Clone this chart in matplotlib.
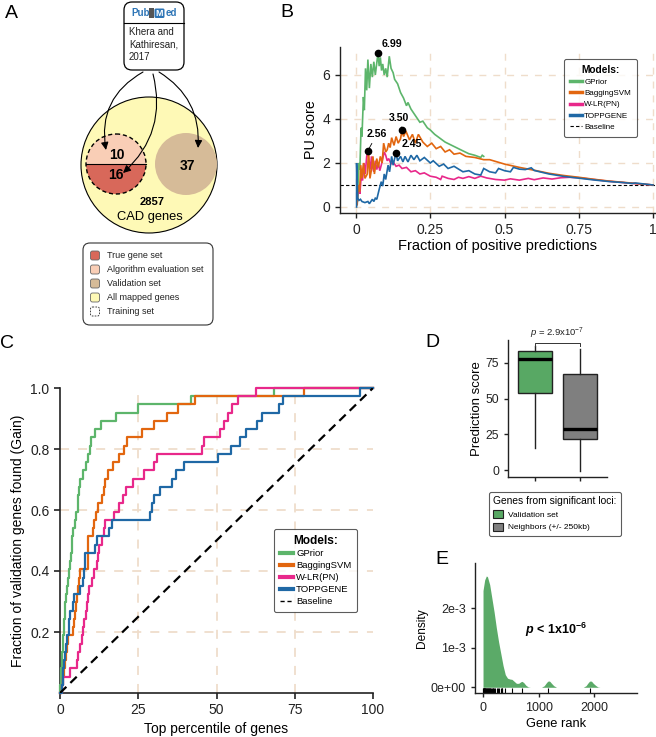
import numpy as np
import matplotlib
matplotlib.use('Agg')
import matplotlib.pyplot as plt
from matplotlib.patches import Circle, Wedge, FancyBboxPatch, FancyArrowPatch, Patch, Rectangle
from matplotlib.lines import Line2D

plt.rcParams['font.family'] = ['Liberation Sans', 'DejaVu Sans']
plt.rcParams['mathtext.fontset'] = 'custom'
plt.rcParams['mathtext.rm'] = 'Liberation Sans'
plt.rcParams['mathtext.it'] = 'Liberation Sans:italic'
plt.rcParams['mathtext.bf'] = 'Liberation Sans:bold'
plt.rcParams['mathtext.bfit'] = 'Liberation Sans:italic:bold'

# ---------------- data ----------------
models = ["GPrior", "BaggingSVM", "W-LR(PN)", "TOPPGENE"]
model_colors = ["#5DB56B", "#E2660F", "#E8288A", "#1F68A5"]

# Panel A
a_eval_n = "10"
a_true_n = "16"
a_valid_n = "37"
a_total_n = "2857"
a_total_label = "CAD genes"
a_source = ["Khera and", "Kathiresan,", "2017"]
a_legend_labels = ["True gene set", "Algorithm evaluation set", "Validation set",
                   "All mapped genes", "Training set"]
a_colors = ["#D8685A", "#F9CEB6", "#D6BB98", "#FEF9B6", "white"]

# Panel B: PU score vs fraction of positive predictions
b_gprior_x = [0.004, 0.010, 0.013, 0.017, 0.020, 0.025, 0.028, 0.032, 0.036, 0.040, 0.045,
              0.050, 0.055, 0.060, 0.065, 0.074, 0.078, 0.082, 0.086, 0.090, 0.095, 0.100,
              0.105, 0.112, 0.118, 0.125, 0.130, 0.140, 0.150, 0.160, 0.170, 0.175, 0.185,
              0.200, 0.215, 0.225, 0.240, 0.250, 0.265, 0.280, 0.300, 0.330, 0.360, 0.380,
              0.400, 0.420, 0.425, 0.430]
b_gprior_y = [0.2, 2.0, 1.7, 3.6, 3.2, 5.0, 4.4, 6.3, 5.3, 6.7, 5.4,
              6.5, 5.9, 6.6, 6.0, 6.99, 6.4, 6.8, 6.2, 6.5, 6.0, 6.3,
              5.9, 6.85, 6.3, 6.1, 5.8, 5.6, 5.2, 4.95, 4.6, 4.75, 4.45,
              4.15, 3.85, 3.9, 3.6, 3.5, 3.3, 3.15, 2.95, 2.75, 2.55, 2.42,
              2.35, 2.25, 2.35, 2.3]
b_bagging_x = [0.004, 0.008, 0.012, 0.016, 0.020, 0.025, 0.030, 0.038, 0.042, 0.047, 0.052,
               0.057, 0.062, 0.066, 0.070, 0.075, 0.082, 0.088, 0.093, 0.100, 0.105, 0.110,
               0.115, 0.120, 0.128, 0.135, 0.142, 0.150, 0.155, 0.160, 0.168, 0.180, 0.190,
               0.200, 0.210, 0.225, 0.240, 0.255, 0.270, 0.285, 0.300, 0.315, 0.330, 0.350,
               0.370, 0.400, 0.430, 0.450, 0.500, 0.550, 0.600, 0.650, 0.700, 0.750, 0.800,
               0.850, 0.900, 0.950, 1.000]
b_bagging_y = [0.1, 1.0, 0.7, 1.9, 1.3, 2.0, 1.3, 1.5, 2.5, 1.3, 1.7,
               2.3, 1.5, 1.9, 2.2, 1.8, 2.3, 2.0, 2.9, 2.5, 2.6, 2.9,
               2.7, 3.15, 2.8, 3.2, 2.9, 3.1, 3.5, 3.2, 3.45, 3.05, 3.3,
               2.9, 3.3, 2.95, 2.75, 2.9, 2.65, 2.75, 2.5, 2.6, 2.4, 2.45,
               2.3, 2.25, 2.15, 2.15, 1.95, 1.8, 1.67, 1.53, 1.43, 1.35, 1.26,
               1.18, 1.12, 1.06, 1.0]
b_wlr_x = [0.004, 0.010, 0.013, 0.018, 0.022, 0.027, 0.031, 0.036, 0.040, 0.044, 0.048,
           0.052, 0.056, 0.060, 0.065, 0.070, 0.075, 0.080, 0.085, 0.090, 0.095, 0.100,
           0.105, 0.110, 0.118, 0.125, 0.135, 0.145, 0.155, 0.170, 0.185, 0.200, 0.215,
           0.230, 0.250, 0.270, 0.285, 0.290, 0.310, 0.330, 0.345, 0.360, 0.380, 0.400,
           0.420, 0.440, 0.470, 0.500, 0.520, 0.550, 0.580, 0.600, 0.630, 0.660, 0.690,
           0.720, 0.750, 0.800, 0.850, 0.900, 0.950, 1.000]
b_wlr_y = [0.5, 0.9, 0.6, 1.5, 1.2, 2.0, 1.5, 2.3, 2.56, 2.1, 1.7,
           2.3, 1.8, 1.6, 2.1, 1.7, 2.0, 1.65, 1.9, 2.2, 2.5, 2.35,
           2.1, 2.2, 1.95, 2.05, 1.85, 1.9, 1.75, 1.8, 1.6, 1.65, 1.5,
           1.55, 1.4, 1.35, 1.25, 1.4, 1.3, 1.25, 1.35, 1.3, 1.38, 1.3,
           1.4, 1.32, 1.25, 1.22, 1.28, 1.22, 1.3, 1.24, 1.32, 1.27, 1.33,
           1.35, 1.33, 1.25, 1.17, 1.11, 1.05, 1.0]
b_topp_x = [0.002, 0.002, 0.004, 0.006, 0.010, 0.015, 0.020, 0.030, 0.040, 0.045, 0.055,
            0.060, 0.065, 0.070, 0.078, 0.085, 0.090, 0.095, 0.100, 0.108, 0.113, 0.120,
            0.125, 0.130, 0.135, 0.140, 0.150, 0.158, 0.165, 0.175, 0.185, 0.195, 0.205,
            0.215, 0.230, 0.250, 0.260, 0.280, 0.295, 0.310, 0.330, 0.360, 0.380, 0.400,
            0.420, 0.430, 0.450, 0.470, 0.480, 0.500, 0.520, 0.530, 0.550, 0.570, 0.590,
            0.600, 0.650, 0.700, 0.750, 0.800, 0.850, 0.900, 0.930, 0.940, 1.000]
b_topp_y = [0.0, 2.0, 1.2, 0.4, 0.3, 0.35, 0.25, 0.2, 0.25, 0.15, 0.35,
            0.25, 0.4, 0.35, 0.8, 1.15, 0.95, 1.5, 1.25, 1.9, 1.6, 2.3,
            1.9, 2.2, 2.45, 2.1, 2.3, 2.05, 2.3, 2.05, 2.35, 2.15, 2.35,
            2.1, 2.25, 2.0, 2.1, 1.85, 1.95, 1.75, 1.85, 1.6, 1.65, 1.5,
            1.45, 1.75, 1.6, 1.55, 1.75, 1.65, 1.6, 1.8, 1.72, 1.7, 1.78,
            1.66, 1.5, 1.39, 1.31, 1.23, 1.16, 1.11, 1.07, 1.09, 1.0]
b_peak_x = [0.074, 0.155, 0.040, 0.135]
b_peak_y = [6.99, 3.50, 2.56, 2.45]
b_peak_text_x = [0.121, 0.145, 0.070, 0.187]
b_peak_text_y = [7.40, 4.05, 3.30, 2.85]
b_peak_labels = ["6.99", "3.50", "2.56", "2.45"]
b_xticks = [0, 0.25, 0.5, 0.75, 1]
b_xticklabels = ["0", "0.25", "0.5", "0.75", "1"]
b_yticks = [0, 2, 4, 6]

# Panel C: percentile at which each of the 37 validation genes is found
c_gprior_hits = [0.1, 0.3, 0.4, 0.5, 0.7, 0.9, 1.0, 1.2, 1.4, 1.5, 1.7, 2.0, 2.3, 2.6, 2.9, 3.1,
                 3.4, 3.7, 3.9, 4.15, 4.7, 5.2, 5.6, 5.9, 6.1, 6.3, 7.35, 8.4, 9.0, 9.5,
                 10.0, 11.1, 13.2, 18.0, 24.9, 42.0, 68.3]
c_bagging_hits = [0.5, 0.9, 1.2, 1.5, 1.8, 2.2, 2.7, 4.05, 4.5, 4.8, 5.1, 5.5, 5.9, 6.2, 6.4,
                  8.9, 9.0, 9.05, 9.1, 10.4, 11.0, 11.4, 12.3, 13.3, 14.0, 14.4, 15.2, 16.8,
                  18.7, 20.3, 21.3, 26.1, 30.1, 34.1, 37.8, 43.2, 78.0]
c_wlr_hits = [0.5, 1.1, 3.2, 5.5, 5.9, 6.5, 6.9, 7.4, 7.8, 8.3, 8.7, 9.0, 9.4, 10.1, 11.0,
              11.7, 12.2, 12.6, 13.5, 14.0, 14.4, 17.1, 18.7, 20.0, 21.1, 23.2, 26.7, 30.0,
              30.9, 45.5, 46.1, 51.1, 52.5, 53.8, 54.8, 57.0, 62.5]
c_topp_hits = [0.5, 0.9, 1.07, 1.4, 1.6, 1.9, 2.1, 2.9, 3.0, 3.2, 4.05, 4.5, 6.4, 7.5, 7.7,
               7.9, 8.0, 11.2, 11.7, 15.5, 16.5, 28.8, 29.5, 30.1, 31.8, 35.7, 37.1, 39.7,
               50.6, 54.7, 57.6, 59.4, 62.9, 64.5, 70.1, 71.4, 95.9]
c_n_valid = 37
c_baseline_x = [0, 100]
c_baseline_y = [0, 1]
c_xticks = [0, 25, 50, 75, 100]
c_yticks = [0.2, 0.4, 0.6, 0.8, 1.0]

# Panel D: box plot statistics of prediction score
d_groups = ["Validation set", "Neighbors (+/- 250kb)"]
d_colors = ["#58A864", "#7F7F7F"]
d_q1 = [54, 22]
d_med = [78, 29]
d_q3 = [83, 67]
d_whislo = [15.5, -0.5]
d_whishi = [86.7, 85]
d_pvalue = r"$\mathit{p}$ = 2.9x10$^{-7}$"
d_yticks = [0, 25, 50, 75]

# Panel E: density of validation gene ranks
e_rank = [0, 30, 60, 80, 120, 160, 200, 240, 280, 320, 360, 400, 440, 480, 520, 560, 600,
          640, 680, 700, 730, 770, 810, 850, 1050, 1100, 1130, 1160, 1180, 1200, 1230, 1270,
          1320, 1800, 1850, 1880, 1910, 1930, 1950, 1980, 2020, 2060, 2100]
e_density_e3 = [2.45, 2.72, 2.82, 2.80, 2.60, 2.25, 1.90, 1.50, 1.15, 0.85, 0.55, 0.32, 0.23,
                0.21, 0.20, 0.15, 0.10, 0.10, 0.14, 0.15, 0.12, 0.05, 0.01, 0.0, 0.0, 0.04,
                0.10, 0.15, 0.16, 0.15, 0.10, 0.04, 0.0, 0.0, 0.04, 0.10, 0.15, 0.16, 0.15,
                0.10, 0.05, 0.01, 0.0]
e_rug = [2, 5, 9, 14, 19, 25, 31, 37, 44, 51, 58, 66, 74, 83, 92, 101, 111, 121, 132, 144,
         157, 171, 186, 203, 222, 243, 266, 292, 320, 335, 345, 395, 515, 694, 1175, 1922]
e_pvalue = r"$\mathbfit{p}$ < 1x10$^{\mathbf{-6}}$"
e_xticks = [0, 1000, 2000]
e_yticks = [0, 1e-3, 2e-3]
e_yticklabels = ["0e+00", "1e-3", "2e-3"]

# ---------------- layout ----------------
W, H = 656, 737
fig = plt.figure(figsize=(W / 100, H / 100), dpi=100)


def ax_px(l, t, r, b):
    return [l / W, 1 - b / H, (r - l) / W, (b - t) / H]


def fxy(x, y):
    return (x / W, 1 - y / H)


GRID = "#EFDDCB"
SPINE = "#222222"

# overlay for panel A and labels
ov = fig.add_axes([0, 0, 1, 1])
ov.set_xlim(0, W)
ov.set_ylim(H, 0)
ov.axis('off')

# --- Panel A ---
ov.add_patch(FancyBboxPatch((124, 2), 60, 68, boxstyle="round,pad=0,rounding_size=8",
                            fc="white", ec="black", lw=0.9))
ov.plot([124, 184], [23, 23], color="black", lw=0.8)
ov.text(131, 13, "Pub", color="#2E75B6", fontsize=7, fontweight="bold", va="center", ha="left")
ov.add_patch(Rectangle((149, 8), 4.5, 10, fc="#555555", ec="none"))
ov.add_patch(FancyBboxPatch((154.5, 8.5), 10, 9.5, boxstyle="round,pad=0,rounding_size=1.5",
                            fc="#2E75B6", ec="none"))
ov.text(159.5, 13.5, "M", color="white", fontsize=6.5, fontweight="bold", va="center", ha="center")
ov.text(165.5, 13, "ed", color="#2E75B6", fontsize=7, fontweight="bold", va="center", ha="left")
for i, s in enumerate(a_source):
    ov.text(129, 32 + i * 12.5, s, fontsize=7, va="center", ha="left", color="#222222")

ov.add_patch(Circle((149, 165), 68, fc=a_colors[3], ec="black", lw=0.8))
ov.add_patch(Circle((186, 164), 31, fc=a_colors[2], ec="none"))
ov.add_patch(Wedge((116, 164), 30, 180, 360, fc=a_colors[1], ec="none"))
ov.add_patch(Wedge((116, 164), 30, 0, 180, fc=a_colors[0], ec="none"))
ov.add_patch(Circle((116, 164), 30, fill=False, ec="black", lw=1.0, ls=(0, (3, 2))))
ov.plot([86, 146], [164, 164], color="black", lw=0.8)
ov.text(117, 155, a_eval_n, fontsize=10, fontweight="bold", ha="center", va="center")
ov.text(116, 175, a_true_n, fontsize=10, fontweight="bold", ha="center", va="center")
ov.text(187, 166, a_valid_n, fontsize=10, fontweight="bold", ha="center", va="center")
ov.text(152, 202, a_total_n, fontsize=8, fontweight="bold", ha="center", va="center")
ov.text(150, 217, a_total_label, fontsize=9.3, ha="center", va="center")

for (p0, p1, rad) in [((143, 72), (106, 150), 0.35), ((153, 74), (123, 173), -0.3),
                      ((159, 72), (198, 148), -0.3)]:
    ov.add_patch(FancyArrowPatch(p0, p1, connectionstyle=f"arc3,rad={rad}",
                                 arrowstyle="-|>,head_length=0.45,head_width=0.22",
                                 mutation_scale=10, lw=0.8, color="black",
                                 shrinkA=0, shrinkB=0))

ov.add_patch(FancyBboxPatch((83, 243), 130, 82, boxstyle="round,pad=0,rounding_size=7",
                            fc="white", ec="#333333", lw=0.8))
a_rows = [255.5, 269.5, 283.5, 297.5, 311.5]
for i, lab in enumerate(a_legend_labels):
    y = a_rows[i]
    ls = (0, (2, 1.5)) if i == 4 else "-"
    ec = "#222222" if i == 4 else "#666666"
    ov.add_patch(FancyBboxPatch((90.5, y - 4.5), 9, 9, boxstyle="round,pad=0,rounding_size=2",
                                fc=a_colors[i], ec=ec, lw=0.6, ls=ls))
    ov.text(107, y, lab, fontsize=6.5, va="center", ha="left", color="#222222")

# panel letters
for lab, x, y in [("A", 5, 18), ("B", 280, 17), ("C", 0, 348), ("D", 425, 347), ("E", 435, 564)]:
    fig.text(x / W, 1 - y / H, lab, fontsize=14, va="baseline", ha="left")


def style_axes(ax, lw=1.0):
    for s in ["top", "right"]:
        ax.spines[s].set_visible(False)
    for s in ["left", "bottom"]:
        ax.spines[s].set_linewidth(lw)
        ax.spines[s].set_color(SPINE)
    ax.tick_params(colors=SPINE, width=lw, length=3.5, labelcolor="#222222")


# --- Panel B ---
axB = fig.add_axes(ax_px(340, 47, 656, 213))
style_axes(axB)
axB.set_xlim(-0.0539, 1.0101)
axB.set_ylim(-0.273, 7.27)
for v in b_xticks:
    axB.axvline(v, color=GRID, lw=1.0, ls=(0, (5, 5)), zorder=0)
for v in b_yticks:
    axB.axhline(v, color=GRID, lw=1.0, ls=(0, (5, 5)), zorder=0)
axB.axhline(1, color="black", lw=0.8, ls=(0, (3, 2)), zorder=1)
series_b = [(b_gprior_x, b_gprior_y), (b_bagging_x, b_bagging_y), (b_wlr_x, b_wlr_y),
            (b_topp_x, b_topp_y)]
zorders_b = [2, 3, 2.5, 4]
for (xs, ys), c, z in zip(series_b, model_colors, zorders_b):
    axB.plot(xs, ys, color=c, lw=1.2, zorder=z, solid_joinstyle="miter")
axB.plot(b_peak_x, b_peak_y, "o", color="black", ms=4.5, zorder=6, clip_on=False)
for px, py, tx, ty, lab in zip(b_peak_x, b_peak_y, b_peak_text_x, b_peak_text_y, b_peak_labels):
    axB.annotate(lab, xy=(px, py), xytext=(tx, ty), fontsize=7.6, fontweight="bold",
                 ha="center", va="center", annotation_clip=False, zorder=7,
                 arrowprops=dict(arrowstyle="-", lw=0.6, color="black", shrinkA=1, shrinkB=2))
axB.set_xticks(b_xticks)
axB.set_xticklabels(b_xticklabels)
axB.set_yticks(b_yticks)
axB.tick_params(labelsize=10)
axB.set_xlabel("Fraction of positive predictions", fontsize=10.5, labelpad=2)
axB.set_ylabel("PU score", fontsize=10.3, labelpad=3)
hB = [Line2D([], [], color=c, lw=2.5) for c in model_colors] + \
     [Line2D([], [], color="black", lw=0.8, ls=(0, (3, 2)))]
legB = axB.legend(hB, models + ["Baseline"], loc="upper left", bbox_to_anchor=fxy(564, 59),
                  bbox_transform=fig.transFigure, borderaxespad=0, fontsize=5.8,
                  title="Models:", title_fontproperties={"weight": "bold", "size": 7.3},
                  handlelength=1.5, handletextpad=0.3, labelspacing=0.45, borderpad=0.7,
                  frameon=True, fancybox=True)
legB.get_frame().set_edgecolor("#333333")
legB.get_frame().set_linewidth(0.8)

# --- Panel C ---
axC = fig.add_axes(ax_px(60, 388, 373, 693))
style_axes(axC, lw=1.2)
axC.set_xlim(0, 100)
axC.set_ylim(0, 1.0)
for v in [25, 50, 75]:
    axC.axvline(v, color=GRID, lw=1.3, ls=(0, (5, 5)), zorder=0)
for v in [0.2, 0.4, 0.6, 0.8]:
    axC.axhline(v, color=GRID, lw=1.3, ls=(0, (5, 5)), zorder=0)
for hits, c in zip([c_gprior_hits, c_bagging_hits, c_wlr_hits, c_topp_hits], model_colors):
    xs = [0] + list(hits) + [100]
    ys = [0] + [(k + 1) / c_n_valid for k in range(len(hits))] + [1.0]
    axC.step(xs, ys, where="post", color=c, lw=1.6, clip_on=False, zorder=3)
axC.plot(c_baseline_x, c_baseline_y, color="black", lw=1.6, ls=(0, (4, 2.5)), zorder=4)
axC.set_xticks(c_xticks)
axC.set_yticks(c_yticks)
axC.set_yticklabels([f"{v:.1f}" for v in c_yticks])
axC.tick_params(labelsize=10, length=4)
axC.set_xlabel("Top percentile of genes", fontsize=10, labelpad=3)
axC.set_ylabel("Fraction of validation genes found (Gain)", fontsize=10, labelpad=4)
hC = [Line2D([], [], color=c, lw=3) for c in model_colors] + \
     [Line2D([], [], color="black", lw=1.0, ls=(0, (3, 2)))]
legC = axC.legend(hC, models + ["Baseline"], loc="upper left", bbox_to_anchor=fxy(274, 529),
                  bbox_transform=fig.transFigure, borderaxespad=0, fontsize=6.8,
                  title="Models:", title_fontproperties={"weight": "bold", "size": 8.6},
                  handlelength=1.45, handletextpad=0.3, labelspacing=0.3, borderpad=0.6,
                  frameon=True, fancybox=True)
legC.get_frame().set_edgecolor("#333333")
legC.get_frame().set_linewidth(0.8)

# --- Panel D ---
axD = fig.add_axes(ax_px(508, 340, 607, 477))
style_axes(axD)
stats = []
for i in range(2):
    stats.append(dict(med=d_med[i], q1=d_q1[i], q3=d_q3[i], whislo=d_whislo[i],
                      whishi=d_whishi[i], fliers=[]))
bp = axD.bxp(stats, positions=[1, 2], widths=0.75, patch_artist=True, showcaps=False,
             showfliers=False,
             boxprops=dict(edgecolor="#222222", linewidth=1.0),
             medianprops=dict(color="black", linewidth=2.4),
             whiskerprops=dict(color="#222222", linewidth=1.0))
for patch, c in zip(bp["boxes"], d_colors):
    patch.set_facecolor(c)
axD.set_xlim(0.4, 2.6)
axD.set_ylim(-4.9, 91)
axD.set_xticks([1, 2])
axD.set_xticklabels(["", ""])
axD.set_yticks(d_yticks)
axD.tick_params(labelsize=8.7, length=3)
axD.set_ylabel("Prediction score", fontsize=9.5, labelpad=2)
axD.plot([1, 1, 2, 2], [87.0, 88.6, 88.6, 87.0], color="#333333", lw=0.7, clip_on=False)
axD.text(1.5, 90.5, d_pvalue, fontsize=6.8, ha="center", va="bottom", color="#222222")
hD = [Patch(facecolor=c, edgecolor="#222222", linewidth=0.8) for c in d_colors]
legD = axD.legend(hD, d_groups, loc="upper left", bbox_to_anchor=fxy(489, 492),
                  bbox_transform=fig.transFigure, borderaxespad=0, fontsize=6,
                  title="Genes from significant loci:", title_fontproperties={"size": 7.4},
                  handlelength=1.2, handleheight=1.1, handletextpad=0.6, labelspacing=0.45,
                  borderpad=0.5, frameon=True, fancybox=True, alignment="left")
legD.get_frame().set_edgecolor("#333333")
legD.get_frame().set_linewidth(0.8)

# --- Panel E ---
axE = fig.add_axes(ax_px(475, 563, 637, 693))
style_axes(axE)
axE.fill_between(e_rank, np.array(e_density_e3) * 1e-3, 0, color="#5BAA68", lw=0)
axE.vlines(e_rug, 0, 0.04, transform=axE.get_xaxis_transform(), color="black", lw=0.8)
axE.set_xlim(-144, 2765)
axE.set_ylim(-0.145e-3, 3.148e-3)
axE.set_xticks(e_xticks)
axE.set_yticks(e_yticks)
axE.set_yticklabels(e_yticklabels)
axE.tick_params(labelsize=9, length=3)
axE.set_xlabel("Gene rank", fontsize=9.3, labelpad=3)
axE.set_ylabel("Density", fontsize=8.6, labelpad=2)
axE.text(1310, 1.45e-3, e_pvalue, fontsize=9, fontweight="bold", ha="center", va="center")

fig.savefig("out.png", dpi=100)
